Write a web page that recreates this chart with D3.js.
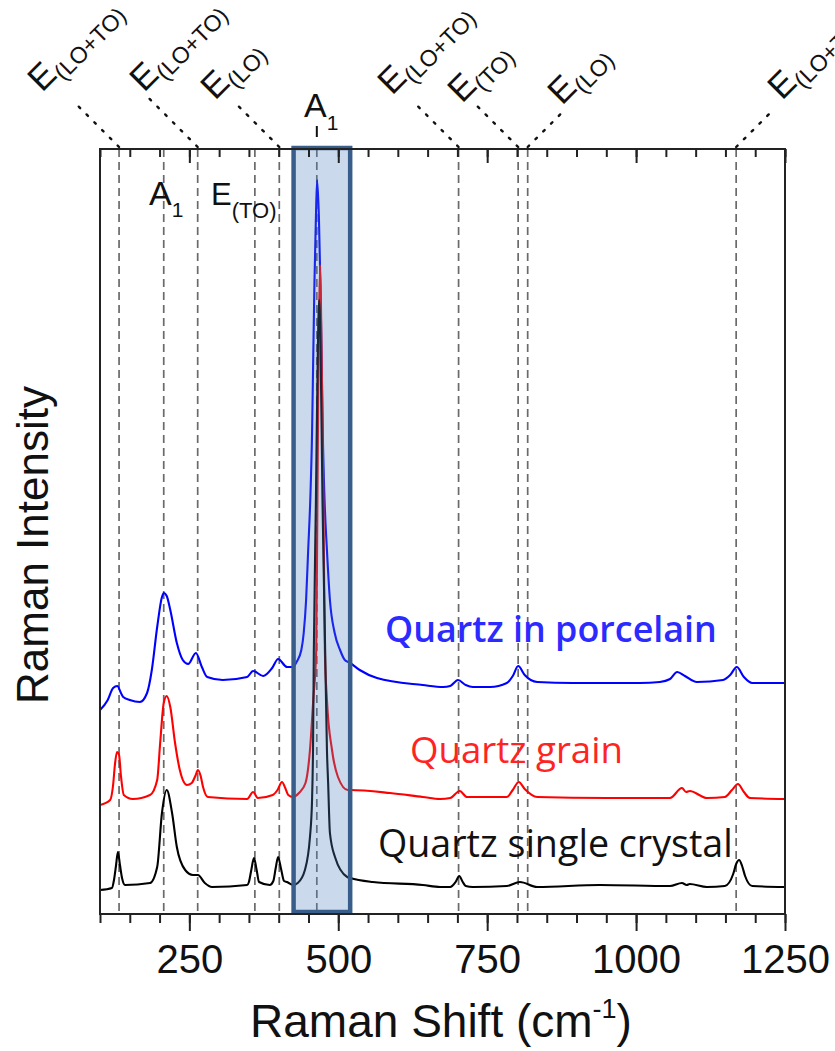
<!DOCTYPE html>
<html><head><meta charset="utf-8">
<script src="https://cdn.jsdelivr.net/npm/d3@7"></script>
<style>body{margin:0;background:#fff}</style>
</head><body>
<svg id="c" width="835" height="1051"></svg>
<script>
// ---------------- data ----------------
const blueShift = [100,113,122,129,136,139,150,167,179,187,196,204,207,212,218,229,239,248,261,271,280,306,347,357,374,389,399,414,424,430,438,442,446,449.5,453,456,458,460,462.5,464.5,467.5,470,472,474,477,481,486,494,503,511,520,536,565,642,676,688,701,714,726,755,783,793,802,813,834,894,1006,1040,1057,1069,1082,1102,1146,1158,1169,1181,1195,1250];
const blueIntensity = [204,214,226,228,220,217,214,212,221,244,287,317,321,318,304,271,254,250,261,247,237,234,237,243,238,246,255,247,247,252,264,281,314,364,414,481,557,631,697,734,697,631,557,481,414,364,314,281,264,254,251,244,236,229,227,228,234,229,227,227,231,238,248,239,232,231,231,232,235,242,238,232,234,239,247,237,231,231];

const redShift = [100,117,122,125,128.5,132,135,140,155,184,196,201,207,212,218,226,234,246,254,260,264.5,269,273,281,347,357,365,390,398,405.5,411,416,424,434,445,452.5,458,463,465,467,469.5,472,475,477.5,481,489.5,499.5,516,520,587,642,671,688,704,716,783,793,803,813,834,951,1057,1077,1084,1090,1119,1149,1161,1171,1181,1191,1250];
const redIntensity = [109,114,129,149,162,159,139,119,115,119,134,171,211,218,207,171,144,129,131,138,144,138,127,117,115,122,116,119,124,132,126,119,117,121,131,164,214,264,414,564,649,564,414,264,214,164,137,124,124,121,117,115,116,123,117,117,124,132,125,117,116,116,126,122,123,116,117,124,130,122,116,115];

const blackShift = [100,120,123.5,127,130,133.5,137,142,184,196,204,212,221,229,243,256,264.5,276,288,347,350,354,358.5,363,367,385,391,395,399,404,409,414,424,432,444,452.5,456,457.6,459,462.5,465.7,468,470.3,473.5,478,481,483,486,494.5,515,520,558,642,671,688,697,703,709,714,726,783,805,834,939,1057,1077,1085,1090,1119,1149,1163,1168,1173,1178,1183,1195,1250];
const blackIntensity = [24,26,34,49,62,49,36,29,31,47,101,124,101,67,44,39,39,31,27,29,32,44,56,44,32,29,33,46,57,45,33,32,29,31,44,77,114,164,264,414,564,614,564,414,264,164,131,81,57,37,36,32,29,27,27,32,38,32,28,27,28,32,27,29,28,31,29,30,27,28,40,50,54,48,38,28,27];

const seriesNames = ["Quartz in porcelain", "Quartz grain", "Quartz single crystal"];
const seriesColors = ["#0000ff", "#ff0000", "#000000"];

const xMajorTicks = [250, 500, 750, 1000, 1250];
const xMinorTicks = d3.range(100, 1251, 50);
const modeShifts = [132, 207, 264, 360, 401, 464, 702, 802, 818, 1168];
const topModeShifts = [132, 264, 401, 702, 802, 818, 1168];
const topModeMain = ["E", "E", "E", "E", "E", "E", "E"];
const topModeSub = ["(LO+TO)", "(LO+TO)", "(LO)", "(LO+TO)", "(TO)", "(LO)", "(LO+TO)"];
const highlightRange = [425, 520];

// ---------------- layout ----------------
const L = 100, R = 785, T = 149, B = 914;
const svg = d3.select("#c");
const x = d3.scaleLinear().domain([100, 1250]).range([L, R]);
const y = d3.scaleLinear().domain([0, 765]).range([B, T]);
const AX = "'Liberation Sans', Arial, sans-serif";
const LBL = "'Open Sans', 'Noto Sans', sans-serif";

svg.append("defs").append("clipPath").attr("id", "clip")
  .append("rect").attr("x", L).attr("y", T).attr("width", R - L).attr("height", B - T);

// dashed mode lines
svg.append("g").selectAll("line").data(modeShifts).join("line")
  .attr("x1", d => x(d)).attr("x2", d => x(d))
  .attr("y1", T).attr("y2", B)
  .attr("stroke", "#6a6a6a").attr("stroke-width", 1.7)
  .attr("stroke-dasharray", "8,5");

// spectra
const line = d3.line().curve(d3.curveMonotoneX).x(d => x(d[0])).y(d => y(d[1]));
const series = [
  d3.zip(blueShift, blueIntensity),
  d3.zip(redShift, redIntensity),
  d3.zip(blackShift, blackIntensity)
];
svg.append("g").attr("clip-path", "url(#clip)").selectAll("path").data(series).join("path")
  .attr("d", line).attr("fill", "none")
  .attr("stroke", (d, i) => seriesColors[i]).attr("stroke-width", 2.1)
  .attr("stroke-linejoin", "round");

// highlight box (semi-transparent, over the curves)
svg.append("rect")
  .attr("x", x(highlightRange[0])).attr("y", T - 1)
  .attr("width", x(highlightRange[1]) - x(highlightRange[0]))
  .attr("height", B - T - 1)
  .attr("fill", "#4f81bd").attr("fill-opacity", 0.3)
  .attr("stroke", "#385d8a").attr("stroke-width", 4.5);

// axes
function styleAxis(g) {
  g.select(".domain").remove();
  g.selectAll("line").attr("stroke", "#222").attr("stroke-width", 2);
  g.selectAll("text").attr("font-family", AX).attr("font-size", 40).attr("fill", "#111");
}
svg.append("g").attr("transform", `translate(0,${B})`)
  .call(d3.axisBottom(x).tickValues(xMinorTicks).tickSize(9).tickFormat(""))
  .call(styleAxis);
svg.append("g").attr("transform", `translate(0,${B})`)
  .call(d3.axisBottom(x).tickValues(xMajorTicks).tickSize(17).tickPadding(14).tickFormat(d3.format("d")))
  .call(styleAxis);
svg.append("g").attr("transform", `translate(0,${T})`)
  .call(d3.axisBottom(x).tickValues(xMinorTicks).tickSize(8).tickFormat(""))
  .call(styleAxis);
svg.append("g").attr("transform", `translate(0,${T})`)
  .call(d3.axisBottom(x).tickValues(xMajorTicks).tickSize(14).tickFormat(""))
  .call(styleAxis);

// frame
svg.append("rect").attr("x", L).attr("y", T).attr("width", R - L).attr("height", B - T)
  .attr("fill", "none").attr("stroke", "#222").attr("stroke-width", 2);

// axis titles
svg.append("text").attr("transform", "translate(48,545) rotate(-90)")
  .attr("text-anchor", "middle").attr("font-family", AX).attr("font-size", 44)
  .attr("fill", "#111").text("Raman Intensity");
const xt = svg.append("text").attr("x", 441).attr("y", 1037).attr("text-anchor", "middle")
  .attr("font-family", AX).attr("font-size", 46).attr("fill", "#111");
xt.append("tspan").text("Raman Shift (cm");
xt.append("tspan").attr("font-size", 27).attr("dy", -19).text("-1");
xt.append("tspan").attr("dy", 19).text(")");

// top rotated mode labels with dotted leaders
const topLayout = [
  {dir: -1, len: 45, tx: 42, ty: 93},
  {dir: -1, len: 50, tx: 144, ty: 93},
  {dir: -1, len: 46, tx: 215, ty: 101},
  {dir: -1, len: 46, tx: 392, ty: 96},
  {dir: -1, len: 43, tx: 462, ty: 104},
  {dir: 1, len: 37, tx: 562, ty: 106},
  {dir: 1, len: 37, tx: 782, ty: 101}
];
topModeShifts.forEach((s, i) => {
  const lay = topLayout[i];
  const xd = x(s);
  svg.append("line")
    .attr("x1", xd).attr("y1", T - 2)
    .attr("x2", xd + lay.dir * lay.len).attr("y2", T - 2 - lay.len)
    .attr("stroke", "#111").attr("stroke-width", 2.4)
    .attr("stroke-dasharray", "2,9").attr("stroke-linecap", "round");
  const t = svg.append("text").attr("transform", `translate(${lay.tx},${lay.ty}) rotate(-45)`)
    .attr("font-family", AX).attr("fill", "#111");
  t.append("tspan").attr("font-size", 35).text(topModeMain[i]);
  t.append("tspan").attr("font-size", 23).attr("dy", 7).text(topModeSub[i]);
});

// central A1 label with short tick
svg.append("line").attr("x1", x(464)).attr("x2", x(464)).attr("y1", 126).attr("y2", 137)
  .attr("stroke", "#111").attr("stroke-width", 2);
const a1 = svg.append("text").attr("x", 304).attr("y", 117).attr("font-family", AX).attr("fill", "#111");
a1.append("tspan").attr("font-size", 34).text("A");
a1.append("tspan").attr("font-size", 21).attr("dy", 13).text("1");

// inside labels A1 and E(TO)
const a2 = svg.append("text").attr("x", 149).attr("y", 205).attr("font-family", AX).attr("fill", "#111");
a2.append("tspan").attr("font-size", 34).text("A");
a2.append("tspan").attr("font-size", 21).attr("dy", 12).text("1");
const e2 = svg.append("text").attr("x", 211).attr("y", 205).attr("font-family", AX).attr("fill", "#111");
e2.append("tspan").attr("font-size", 31).text("E");
e2.append("tspan").attr("font-size", 22).attr("dy", 13).text("(TO)");

// series labels
const labelLayout = [
  {x: 385, y: 642, w: 332, weight: 600, color: "#2b2bff"},
  {x: 410, y: 763, w: 213, weight: 400, color: "#ff2424"},
  {x: 378, y: 857, w: 355, weight: 400, color: "#111"}
];
seriesNames.forEach((n, i) => {
  const lay = labelLayout[i];
  const t = svg.append("text").attr("x", lay.x).attr("y", lay.y)
    .attr("font-family", LBL).attr("font-weight", lay.weight)
    .attr("font-size", 30).attr("fill", lay.color).text(n);
  const w = t.node().getComputedTextLength();
  t.attr("font-size", 30 * lay.w / w);
});
</script>
</body></html>
